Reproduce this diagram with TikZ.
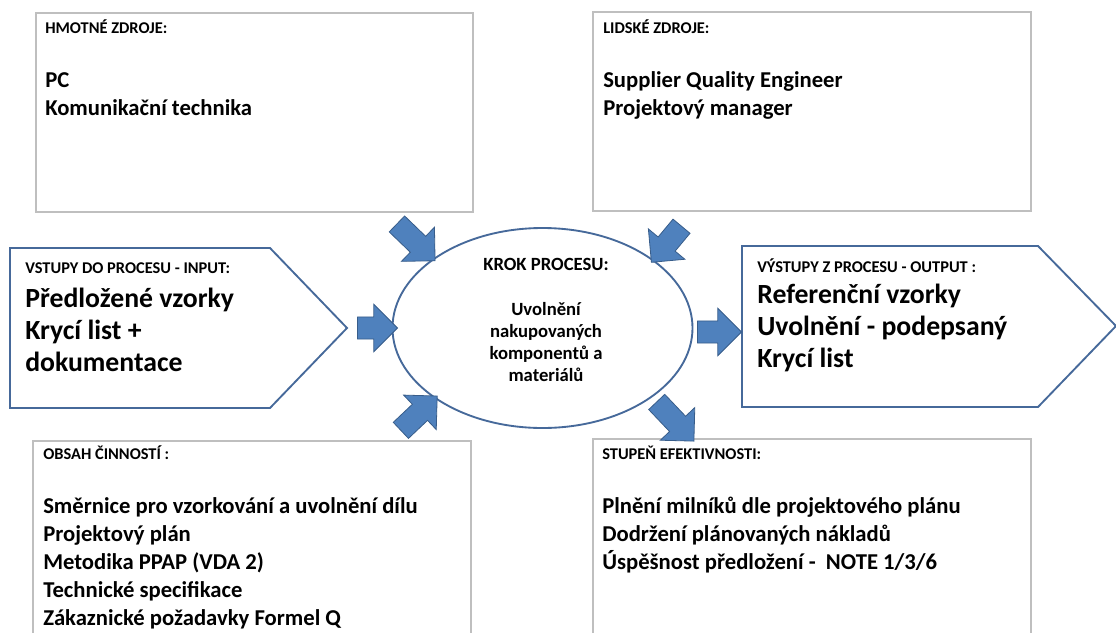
\documentclass[tikz,border=0pt]{standalone}
\usepackage{fontspec}
\setmainfont{Carlito}
\usetikzlibrary{shapes.arrows,shapes.geometric}
\definecolor{boxgray}{HTML}{BFBFBF}
\definecolor{shapeblue}{HTML}{46699A}
\definecolor{arrowblue}{HTML}{4F81BD}
\definecolor{arrowedge}{HTML}{385D8A}
\begin{document}
\begin{tikzpicture}[x=0.75pt,y=-0.75pt,
  greybox/.style={draw=boxgray, line width=1.1pt, fill=white},
  pentagon/.style={draw=shapeblue, line width=1.4pt, fill=white, line join=miter},
  blockarrow/.style={single arrow, draw=arrowedge, fill=arrowblue, line width=0.6pt,
    inner xsep=0pt, inner ysep=8pt, single arrow head extend=9.5pt,
    single arrow tip angle=90, anchor=center},
  hdr/.style={anchor=base west, inner sep=0pt, font=\fontsize{12.3}{14}\selectfont\bfseries},
  midtxt/.style={anchor=base west, align=left, inner sep=0pt, font=\fontsize{17}{21}\selectfont\bfseries},
  bigtxt/.style={anchor=base west, align=left, inner sep=0pt, font=\fontsize{20.8}{24}\selectfont\bfseries},
  elltxt/.style={anchor=base, align=center, inner sep=0pt, font=\fontsize{14}{16.5}\selectfont\bfseries}]
\useasboundingbox (0,0) rectangle (1116,632);
\clip (0,0) rectangle (1116,632);

% resource, activity and effectiveness boxes
\draw[greybox] (36,13) rectangle (473,212);
\draw[greybox] (593,12) rectangle (1031,211);
\draw[greybox] (33,441) rectangle (471,660);
\draw[greybox] (593,439) rectangle (1031,660);

% input and output pentagons
\draw[pentagon] (10,248) -- (270,248) -- (347,328) -- (270,408) -- (10,408) -- cycle;
\draw[pentagon] (742,246) -- (1038,246) -- (1116,326) -- (1038,407) -- (742,407) -- cycle;

% process step
\node[ellipse, draw=shapeblue, line width=1.4pt, fill=white, minimum width=225pt,
  minimum height=150pt, inner sep=0pt] (proc) at (542.5,328) {};

% block arrows towards and away from the process step
\node[blockarrow, minimum height=39.75pt, rotate=-44]    (aTL) at (412,238.5) {};
\node[blockarrow, minimum height=35.25pt, rotate=-129.8] (aTR) at (670,240) {};
\node[blockarrow, minimum height=30pt]                   (aL)  at (372,328) {};
\node[blockarrow, minimum height=33pt]                   (aR)  at (714,332) {};
\node[blockarrow, minimum height=37.5pt, rotate=43.4]    (aBL) at (415,417) {};
\node[blockarrow, minimum height=40.5pt, rotate=-46.5]   (aBR) at (671.5,417.5) {};

% texts (multi-line blocks are anchored at the baseline of their last line)
\node[hdr] (hmh) at (45,33) {HMOTNÉ ZDROJE:};
\node[midtxt] (hmt) at (45,115) {PC\\Komunikační technika};

\node[hdr] (lzh) at (603,33) {LIDSKÉ ZDROJE:};
\node[midtxt] (lzt) at (603,115) {Supplier Quality Engineer\\Projektový manager};

\node[hdr] (inh) at (25,273) {VSTUPY DO PROCESU - INPUT:};
\node[bigtxt] (int) at (25,371) {Předložené vzorky\\Krycí list +\\dokumentace};

\node[hdr] (outh) at (757,272) {VÝSTUPY Z PROCESU - OUTPUT :};
\node[bigtxt] (outt) at (757,367) {Referenční vzorky\\Uvolnění - podepsaný\\Krycí list};

\node[elltxt] (krh) at (546,270) {KROK PROCESU:};
\node[elltxt] (krt) at (546,381) {Uvolnění\\nakupovaných\\komponentů a\\materiálů};

\node[hdr] (obh) at (43,459) {OBSAH ČINNOSTÍ :};
\node[midtxt] (obt) at (43,625) {Směrnice pro vzorkování a uvolnění dílu\\Projektový plán\\Metodika PPAP (VDA 2)\\Technické specifikace\\Zákaznické požadavky Formel Q};

\node[hdr] (sth) at (602,459) {STUPEŇ EFEKTIVNOSTI:};
\node[midtxt] (stt) at (602,569) {Plnění milníků dle projektového plánu\\Dodržení plánovaných nákladů\\Úspěšnost předložení -\ \ NOTE 1/3/6};
\end{tikzpicture}
\end{document}
